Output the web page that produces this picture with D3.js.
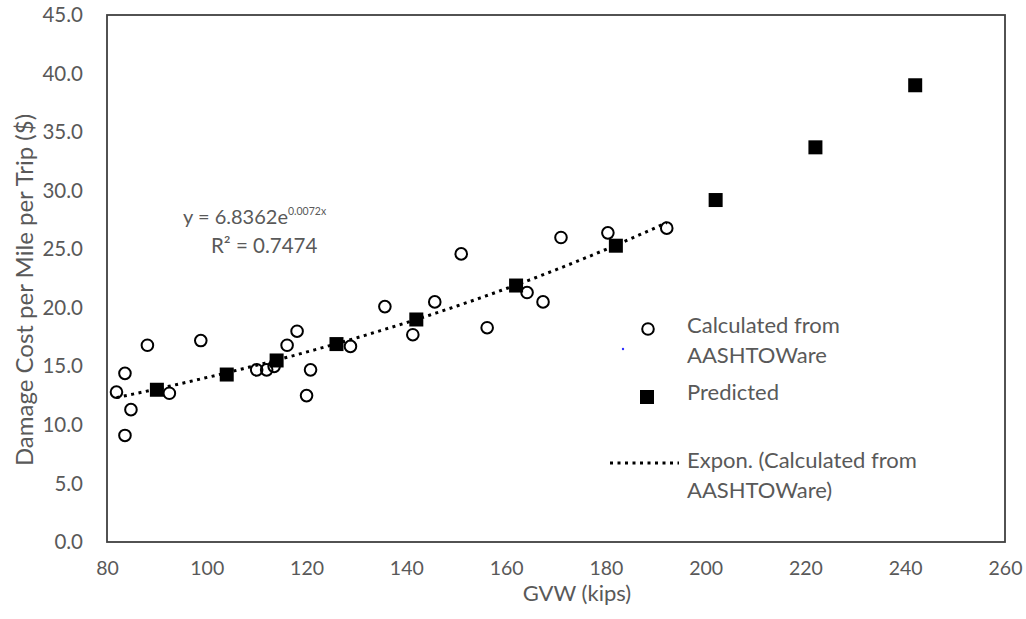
<!DOCTYPE html>
<html>
<head>
<meta charset="utf-8">
<script src="https://cdn.jsdelivr.net/npm/d3@7"></script>
<style>
  body { margin: 0; background: #fff; }
  text { font-family: Lato, "Open Sans", sans-serif; fill: #595959; }
</style>
</head>
<body>
<svg id="chart" width="1026" height="619"></svg>
<script>
// Calculated from AASHTOWare (open circles)
var calcGVW = [81.9, 83.6, 84.8, 83.6, 88.1, 92.5, 98.8, 110.0, 112.0, 113.5, 116.1, 118.1, 120.8, 120.0,
               128.8, 135.7, 141.3, 145.7, 151.0, 156.2, 164.2, 167.4, 171.0, 180.4, 192.2];
var calcCost = [12.8, 14.4, 11.3, 9.1, 16.8, 12.7, 17.2, 14.7, 14.7, 15.0, 16.8, 18.0, 14.7, 12.5,
                16.7, 20.1, 17.7, 20.5, 24.6, 18.3, 21.3, 20.5, 26.0, 26.4, 26.8];

// Predicted (black squares)
var predGVW = [90, 104, 114, 126, 142, 162, 182, 202, 222, 242];
var predCost = [13.0, 14.3, 15.5, 16.9, 19.0, 21.9, 25.3, 29.2, 33.7, 39.0];

// exponential trendline y = a * e^(b x)
var trendA = 6.8362, trendB = 0.0072;

var xTicks = [80, 100, 120, 140, 160, 180, 200, 220, 240, 260];
var yTicks = [0, 5, 10, 15, 20, 25, 30, 35, 40, 45];

var legendLabels = [["Calculated from", "AASHTOWare"], ["Predicted"], ["Expon. (Calculated from", "AASHTOWare)"]];

var svg = d3.select("#chart");

var x = d3.scaleLinear().domain([80, 260]).range([107, 1005]);
var y = d3.scaleLinear().domain([0, 45]).range([542, 15]);

// axes (labels only, no tick marks)
var xAxis = svg.append("g")
    .attr("transform", "translate(0,542)")
    .call(d3.axisBottom(x).tickValues(xTicks).tickSize(0).tickPadding(19).tickFormat(d3.format("d")));
xAxis.select(".domain").remove();
xAxis.selectAll("text").attr("font-size", "19.5px").attr("font-family", null).attr("fill", "#595959");

var yAxis = svg.append("g")
    .attr("transform", "translate(107,0)")
    .call(d3.axisLeft(y).tickValues(yTicks).tickSize(0).tickPadding(24).tickFormat(d3.format(".1f")));
yAxis.select(".domain").remove();
yAxis.selectAll("text").attr("font-size", "20.5px").attr("font-family", null).attr("fill", "#595959");

// plot frame
svg.append("rect")
    .attr("x", x(80)).attr("y", y(45))
    .attr("width", x(260) - x(80)).attr("height", y(0) - y(45))
    .attr("fill", "none").attr("stroke", "#404040").attr("stroke-width", 1.8);

svg.append("text")
    .attr("x", 577).attr("y", 601)
    .attr("text-anchor", "middle").attr("font-size", "22px")
    .text("GVW (kips)");

svg.append("text")
    .attr("transform", "translate(33,290) rotate(-90)")
    .attr("text-anchor", "middle").attr("font-size", "24px")
    .text("Damage Cost per Mile per Trip ($)");

// trendline over the range of the calculated points
var xMin = d3.min(calcGVW), xMax = d3.max(calcGVW);
var trendPts = d3.range(0, 101).map(function(i) {
    var gx = xMin + (xMax - xMin) * i / 100;
    return [gx, trendA * Math.exp(trendB * gx)];
});
svg.append("path")
    .datum(trendPts)
    .attr("d", d3.line().x(function(d) { return x(d[0]); }).y(function(d) { return y(d[1]); }))
    .attr("fill", "none").attr("stroke", "#000")
    .attr("stroke-width", 3).attr("stroke-dasharray", "3,4.5");

svg.append("g").selectAll("circle")
    .data(d3.zip(calcGVW, calcCost))
    .enter().append("circle")
    .attr("cx", function(d) { return x(d[0]); })
    .attr("cy", function(d) { return y(d[1]); })
    .attr("r", 5.8)
    .attr("fill", "none").attr("stroke", "#000").attr("stroke-width", 2);

svg.append("g").selectAll("rect")
    .data(d3.zip(predGVW, predCost))
    .enter().append("rect")
    .attr("x", function(d) { return x(d[0]) - 7; })
    .attr("y", function(d) { return y(d[1]) - 7; })
    .attr("width", 14).attr("height", 14)
    .attr("fill", "#000");

// equation label
var eq = svg.append("text").attr("x", 183).attr("y", 224).attr("font-size", "20px");
eq.append("tspan").text("y = " + trendA + "e");
eq.append("tspan").attr("dy", -9).attr("font-size", "10.5px").text("0.00" + (trendB * 10000) + "x");
svg.append("text").attr("x", 211).attr("y", 253).attr("font-size", "20.5px").text("R\u00b2 = 0.7474");

// legend
var legend = svg.append("g");
legend.append("circle").attr("cx", 648).attr("cy", 329).attr("r", 5.8)
    .attr("fill", "none").attr("stroke", "#000").attr("stroke-width", 2);
legend.append("circle").attr("cx", 623).attr("cy", 349).attr("r", 1.2).attr("fill", "#3030ff");
legend.append("rect").attr("x", 640).attr("y", 390).attr("width", 14).attr("height", 14).attr("fill", "#000");
legend.append("line").attr("x1", 610).attr("x2", 679).attr("y1", 463).attr("y2", 463)
    .attr("stroke", "#000").attr("stroke-width", 3).attr("stroke-dasharray", "3,4.5");

var legendY = [333, 400, 468];
legendLabels.forEach(function(lines, i) {
    var t = legend.append("text").attr("x", 687).attr("y", legendY[i]).attr("font-size", "22px");
    lines.forEach(function(s, j) {
        t.append("tspan").attr("x", 687).attr("dy", j == 0 ? 0 : 30).text(s);
    });
});
</script>
</body>
</html>
